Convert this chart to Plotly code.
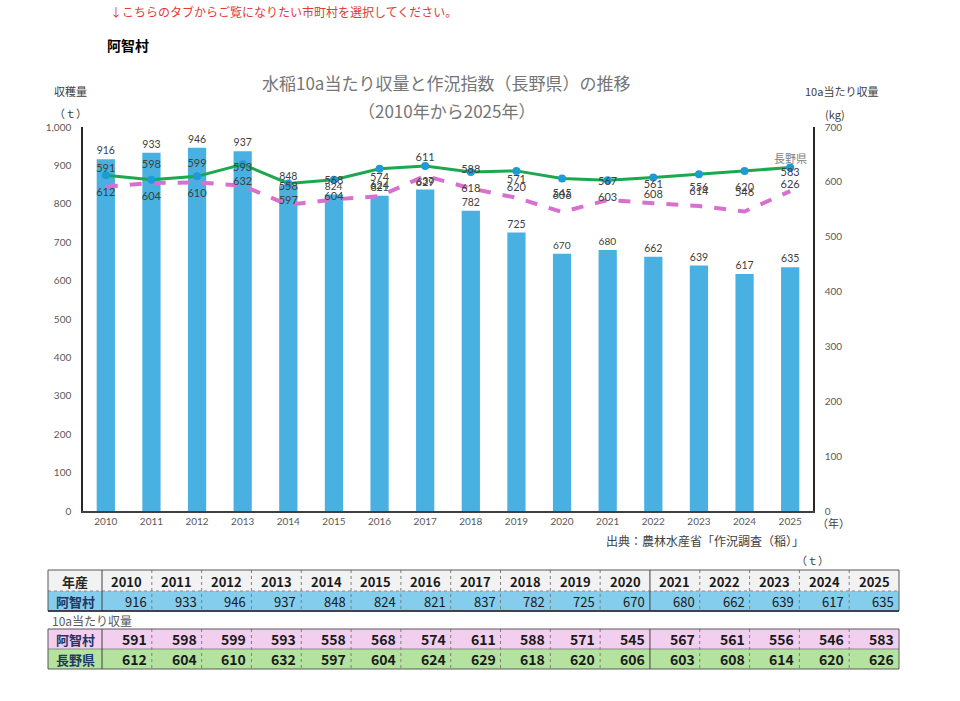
import plotly.graph_objects as go

years = [2010, 2011, 2012, 2013, 2014, 2015, 2016, 2017, 2018, 2019, 2020, 2021, 2022, 2023, 2024, 2025]
harvest_t = [916, 933, 946, 937, 848, 824, 821, 837, 782, 725, 670, 680, 662, 639, 617, 635]
achi_10a = [591, 598, 599, 593, 558, 568, 574, 611, 588, 571, 545, 567, 561, 556, 546, 583]
nagano_10a = [612, 604, 610, 632, 597, 604, 624, 629, 618, 620, 606, 603, 608, 614, 620, 626]

W, H = 960, 701
L, R, T, B = 83, 813, 127, 511  # plot area in pixels
FONT = "Noto Sans CJK JP"
NUMFONT = "Lato, Noto Sans CJK JP"


def px(x):
    return (x - L) / (R - L)


def py(y):
    return (B - y) / (B - T)


fig = go.Figure()

fig.add_trace(go.Bar(
    x=years, y=harvest_t, name="阿智村 収穫量", width=0.4,
    marker=dict(color="#49B0E2", line=dict(width=0)),
    text=[str(v) for v in harvest_t], textposition="outside",
    textfont=dict(size=11, color="#404040", family=NUMFONT),
    cliponaxis=False, yaxis="y",
))

fig.add_trace(go.Scatter(
    x=years, y=achi_10a, name="阿智村", mode="lines", yaxis="y2",
    line=dict(color="#D870D0", width=4, dash="dash"),
))
fig.add_trace(go.Scatter(
    x=years, y=nagano_10a, name="長野県", mode="lines+markers", yaxis="y2",
    line=dict(color="#1BA84E", width=3),
    marker=dict(color="#1E9AD6", size=8),
))
# data labels
fig.add_trace(go.Scatter(
    x=years, y=achi_10a, mode="markers+text", yaxis="y2",
    marker=dict(size=18, color="rgba(0,0,0,0)"),
    text=[str(v) for v in achi_10a], textposition="top center",
    textfont=dict(size=11, color="#404040", family=NUMFONT),
    cliponaxis=False, hoverinfo="skip",
))
fig.add_trace(go.Scatter(
    x=years, y=nagano_10a, mode="markers+text", yaxis="y2",
    marker=dict(size=18, color="rgba(0,0,0,0)"),
    text=[str(v) for v in nagano_10a], textposition="bottom center",
    textfont=dict(size=11, color="#404040", family=NUMFONT),
    cliponaxis=False, hoverinfo="skip",
))

annotations = []
shapes = []

# series name label
annotations.append(dict(x=years[-1], y=nagano_10a[-1], xref="x", yref="y2",
                        text="長野県", showarrow=False, yshift=10,
                        font=dict(size=11, color="#7F7F7F", family=FONT)))


def txt(x, y, s, size=12, color="#404040", xanchor="center", bold=False, family=FONT):
    annotations.append(dict(x=px(x), y=py(y), xref="paper", yref="paper",
                            text=("<b>%s</b>" % s) if bold else s,
                            showarrow=False, xanchor=xanchor, yanchor="middle",
                            font=dict(size=size, color=color, family=family)))


txt(108, 11, "↓こちらのタブからご覧になりたい市町村を選択してください。", 12, "#E23A36", "left")
txt(105, 45, "阿智村", 14, "#000000", "left", bold=True)
txt(446, 82, "水稲10a当たり収量と作況指数（長野県）の推移", 17, "#757575")
txt(446, 110, "（2010年から2025年）", 17, "#757575")
txt(70, 91, "収穫量", 11, "#404040")
txt(70, 113, "（ｔ）", 11, "#404040")
txt(842, 91, "10a当たり収量", 11, "#404040")
txt(835, 114, "(kg)", 11, "#404040")
txt(815, 523, "（年）", 11, "#404040", "left")
txt(705, 540, "出典：農林水産省「作況調査（稲）」", 12, "#404040")
txt(812, 560, "（ｔ）", 11, "#404040")

# ---- table ----
x0 = 48
first_w = 54
col_w = (899 - (x0 + first_w)) / len(years)
xs = [x0 + first_w + i * col_w for i in range(len(years) + 1)]
xr = xs[-1]


def rect(xa, ya, xb, yb, fill, lc="rgba(0,0,0,0)", lw=0):
    shapes.append(dict(type="rect", xref="paper", yref="paper",
                       x0=px(xa), x1=px(xb), y0=py(yb), y1=py(ya),
                       fillcolor=fill, line=dict(color=lc, width=lw), layer="above"))


def line(xa, ya, xb, yb, color, width=1, dash="solid"):
    shapes.append(dict(type="line", xref="paper", yref="paper",
                       x0=px(xa), x1=px(xb), y0=py(ya), y1=py(yb),
                       line=dict(color=color, width=width, dash=dash), layer="above"))


rows1 = [(570, 591, "#F2F2F2"), (591, 611, "#85CDEC")]
rows2 = [(629, 649, "#F2CFEF"), (649, 669, "#B4E3A0")]
for ya, yb, c in rows1 + rows2:
    rect(x0, ya, xr, yb, c)

for top, bot, mid in [(570, 611, 591), (629, 669, 649)]:
    line(x0, mid, xr, mid, "#8C8C8C", 1, "dot" if top == 570 else "solid")
    for i, xv in enumerate(xs):
        if i == 0 or i == 11:
            line(xv, top, xv, bot, "#404040", 1)
        elif i < len(xs) - 1:
            line(xv, top, xv, bot, "#7F7F7F", 1, "dot")
    rect(x0, top, xr, bot, "rgba(0,0,0,0)", "#595959", 1)
line(x0, 611, xr, 611, "#262626", 1.5)

LBL = "#1F3864"
txt(x0 + first_w / 2, 581, "年産", 13, "#262626", bold=True)
txt(x0 + first_w / 2, 601, "阿智村", 13, LBL, bold=True)
txt(50, 620, "10a当たり収量", 12, "#595959", "left")
txt(x0 + first_w / 2, 639, "阿智村", 13, LBL, bold=True)
txt(x0 + first_w / 2, 659, "長野県", 13, LBL, bold=True)
for i, yr in enumerate(years):
    txt(xs[i] + col_w / 2, 581, str(yr), 13, "#1A1A1A", bold=True)
    txt(xs[i + 1] - 3, 601, str(harvest_t[i]), 13, "#1A1A1A", "right")
    txt(xs[i + 1] - 3, 639, str(achi_10a[i]), 14, "#1A1A1A", "right", bold=True)
    txt(xs[i + 1] - 3, 659, str(nagano_10a[i]), 14, "#1A1A1A", "right", bold=True)

fig.update_layout(
    width=W, height=H,
    margin=dict(l=L, r=W - R, t=T, b=H - B, pad=0),
    paper_bgcolor="white", plot_bgcolor="white",
    showlegend=False,
    font=dict(family=FONT, color="#595959"),
    xaxis=dict(range=[2009.5, 2025.5], tickmode="array", tickvals=years,
               ticktext=[str(y) for y in years], showgrid=False, zeroline=False,
               showline=True, linecolor="#404040", linewidth=1.5, ticks="",
               tickfont=dict(size=10, color="#595959", family=NUMFONT), fixedrange=True),
    yaxis=dict(range=[0, 1000], dtick=100, tickformat=",", showgrid=False,
               zeroline=False, showline=True, linecolor="#262626", linewidth=1.5,
               ticks="", tickfont=dict(size=10, color="#595959", family=NUMFONT),
               ticklabelstandoff=8),
    yaxis2=dict(range=[0, 700], dtick=100, overlaying="y", side="right",
                showgrid=False, zeroline=False, showline=True, linecolor="#262626",
                linewidth=1.5, ticks="", tickfont=dict(size=10, color="#595959", family=NUMFONT),
                ticklabelstandoff=8),
    annotations=annotations, shapes=shapes,
    bargap=0.6,
)

fig.write_html("out.html")
